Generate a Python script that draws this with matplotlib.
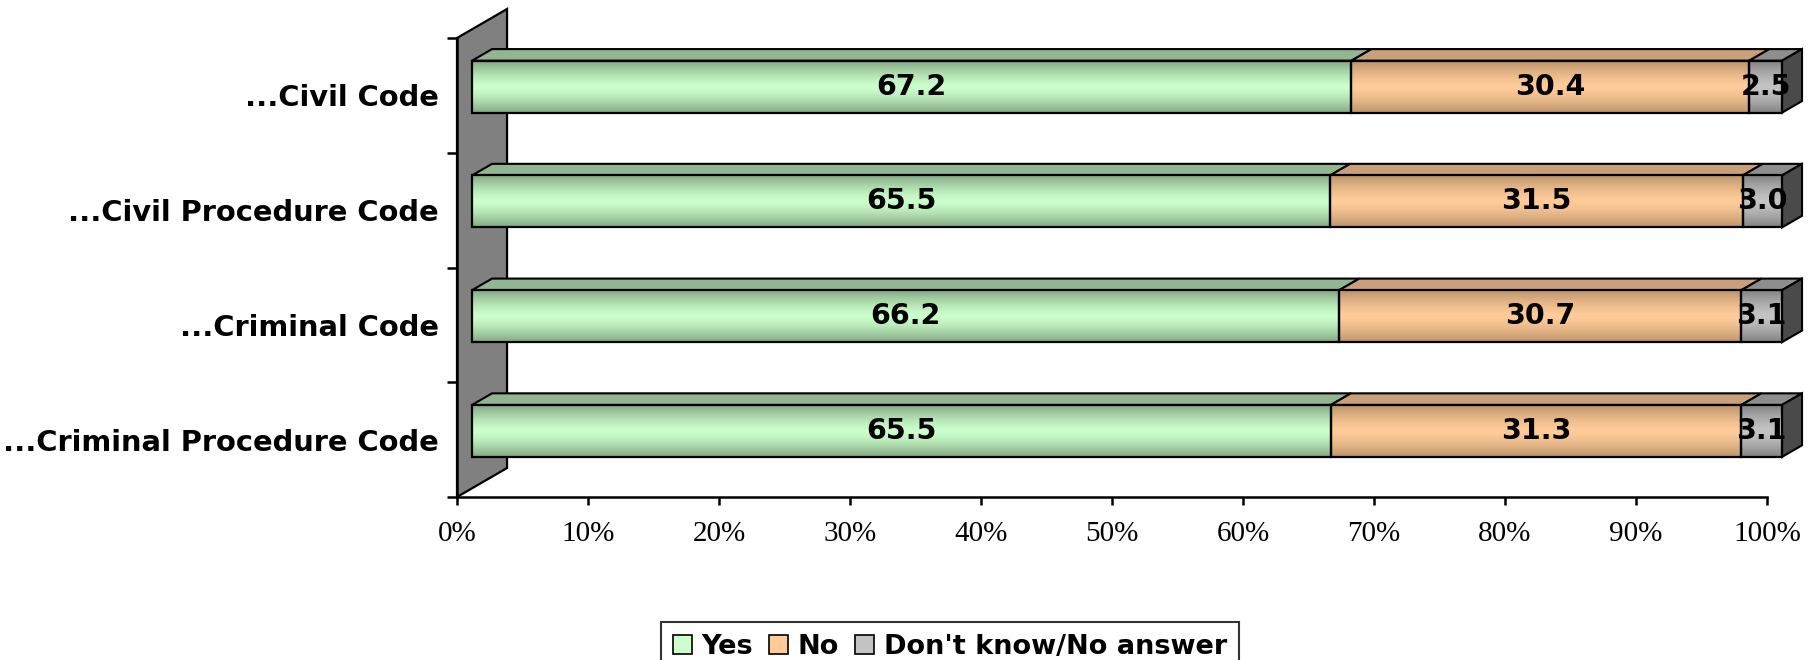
import numpy as np
import matplotlib
matplotlib.use("Agg")
import matplotlib.pyplot as plt
from matplotlib.patches import Polygon, Rectangle, Patch
from matplotlib.colors import to_rgb

# ---------------- data ----------------
categories = ["...Civil Code", "...Civil Procedure Code", "...Criminal Code",
              "...Criminal Procedure Code"]
series_names = ["Yes", "No", "Don't know/No answer"]
yes_vals = [67.2, 65.5, 66.2, 65.5]
no_vals = [30.4, 31.5, 30.7, 31.3]
dk_vals = [2.5, 3.0, 3.1, 3.1]
x_ticks = [0, 10, 20, 30, 40, 50, 60, 70, 80, 90, 100]
x_tick_labels = ["0%", "10%", "20%", "30%", "40%", "50%", "60%", "70%",
                 "80%", "90%", "100%"]

# ---------------- style ----------------
light_cols = ["#ccffcc", "#ffcc99", "#c4c4c4"]
dark_cols = ["#84a984", "#bd946b", "#828282"]
top_cols = ["#92b692", "#c9a079", "#8e8e8e"]
side_col = "#4a4a4a"
wall_col = "#808080"

DX = 3.82      # full depth in x data units (percent)
DY = 0.2527    # full depth in y data units (categories)
R0, R1 = 0.3, 0.7   # bar depth range
BH = 0.453     # bar height
SANS = "DejaVu Sans"

fig = plt.figure(figsize=(18.14, 6.6), dpi=100)
ax = fig.add_axes([457 / 1814, 1 - 497 / 660, 1310 / 1814, 459 / 660])

# back wall (left side)
wall = Polygon([(0, -0.5), (DX, -0.5 - DY), (DX, 3.5 - DY), (0, 3.5)],
               closed=True, facecolor=wall_col, edgecolor="black", lw=1.6,
               zorder=1, clip_on=False)
ax.add_patch(wall)

def gradient(light, dark, n=80):
    u = np.linspace(0, 1, n)
    t = np.abs(2 * u - 1) ** 1.4
    l = np.array(to_rgb(light)); d = np.array(to_rgb(dark))
    img = l[None, :] * (1 - t[:, None]) + d[None, :] * t[:, None]
    return img[:, None, :]

series = [yes_vals, no_vals, dk_vals]
for i in range(len(categories)):
    vals = [s[i] for s in series]
    total = sum(vals)
    cum = 0.0
    top = i - BH / 2 - R0 * DY
    bot = i + BH / 2 - R0 * DY
    ddx = (R1 - R0) * DX
    ddy = (R1 - R0) * DY
    for j, v in enumerate(vals):
        x0 = cum / total * 100 + R0 * DX
        x1 = (cum + v) / total * 100 + R0 * DX
        cum += v
        # top face
        ax.add_patch(Polygon([(x0, top), (x1, top), (x1 + ddx, top - ddy),
                              (x0 + ddx, top - ddy)], closed=True,
                             facecolor=top_cols[j], edgecolor="black", lw=1.5,
                             zorder=3, clip_on=False))
        # front face gradient
        im = ax.imshow(gradient(light_cols[j], dark_cols[j]),
                       extent=[x0, x1, bot, top], aspect="auto",
                       interpolation="bilinear", zorder=4)
        im.set_clip_on(False)
        ax.add_patch(Rectangle((x0, top), x1 - x0, bot - top, fill=False,
                               edgecolor="black", lw=1.6, zorder=5,
                               clip_on=False))
        if j == len(vals) - 1:
            ax.add_patch(Polygon([(x1, top), (x1 + ddx, top - ddy),
                                  (x1 + ddx, bot - ddy), (x1, bot)],
                                 closed=True, facecolor=side_col,
                                 edgecolor="black", lw=1.5, zorder=3,
                                 clip_on=False))
        ax.text((x0 + x1) / 2, (top + bot) / 2, f"{v:.1f}", ha="center",
                va="center", fontsize=20.5, fontweight="bold", family=SANS,
                zorder=6, clip_on=False)

ax.set_xlim(0, 100)
ax.set_ylim(3.5, -0.5)
for s in ["top", "right"]:
    ax.spines[s].set_visible(False)
for s in ["left", "bottom"]:
    ax.spines[s].set_linewidth(1.8)
    ax.spines[s].set_zorder(2)
ax.set_xticks(x_ticks)
ax.set_xticklabels(x_tick_labels, family="Liberation Serif", fontsize=21)
ax.tick_params(axis="x", direction="out", length=6, width=1.8, pad=11)
ax.set_yticks([-0.5, 0.5, 1.5, 2.5, 3.5])
ax.set_yticklabels([])
ax.tick_params(axis="y", which="major", direction="out", length=7, width=1.8)
ax.set_yticks([0, 1, 2, 3], minor=True)
ax.set_yticklabels(categories, minor=True, fontsize=20.8, fontweight="bold",
                   family=SANS)
ax.tick_params(axis="y", which="minor", length=0, pad=13)
ax.set_facecolor("none")

handles = [Patch(facecolor=light_cols[k], edgecolor="black", lw=1.2)
           for k in range(3)]
leg = fig.legend(handles, series_names, loc="upper center",
                 bbox_to_anchor=(950 / 1814, 1 - 622 / 660), ncol=3,
                 prop={"family": SANS, "weight": "bold", "size": 19.5},
                 frameon=True, fancybox=False, edgecolor="black",
                 borderaxespad=0, handlelength=0.7, handleheight=0.7,
                 handletextpad=0.35, columnspacing=0.6, borderpad=0.45)
leg.get_frame().set_linewidth(1.5)

fig.savefig("out.png", dpi=100, facecolor="white")
